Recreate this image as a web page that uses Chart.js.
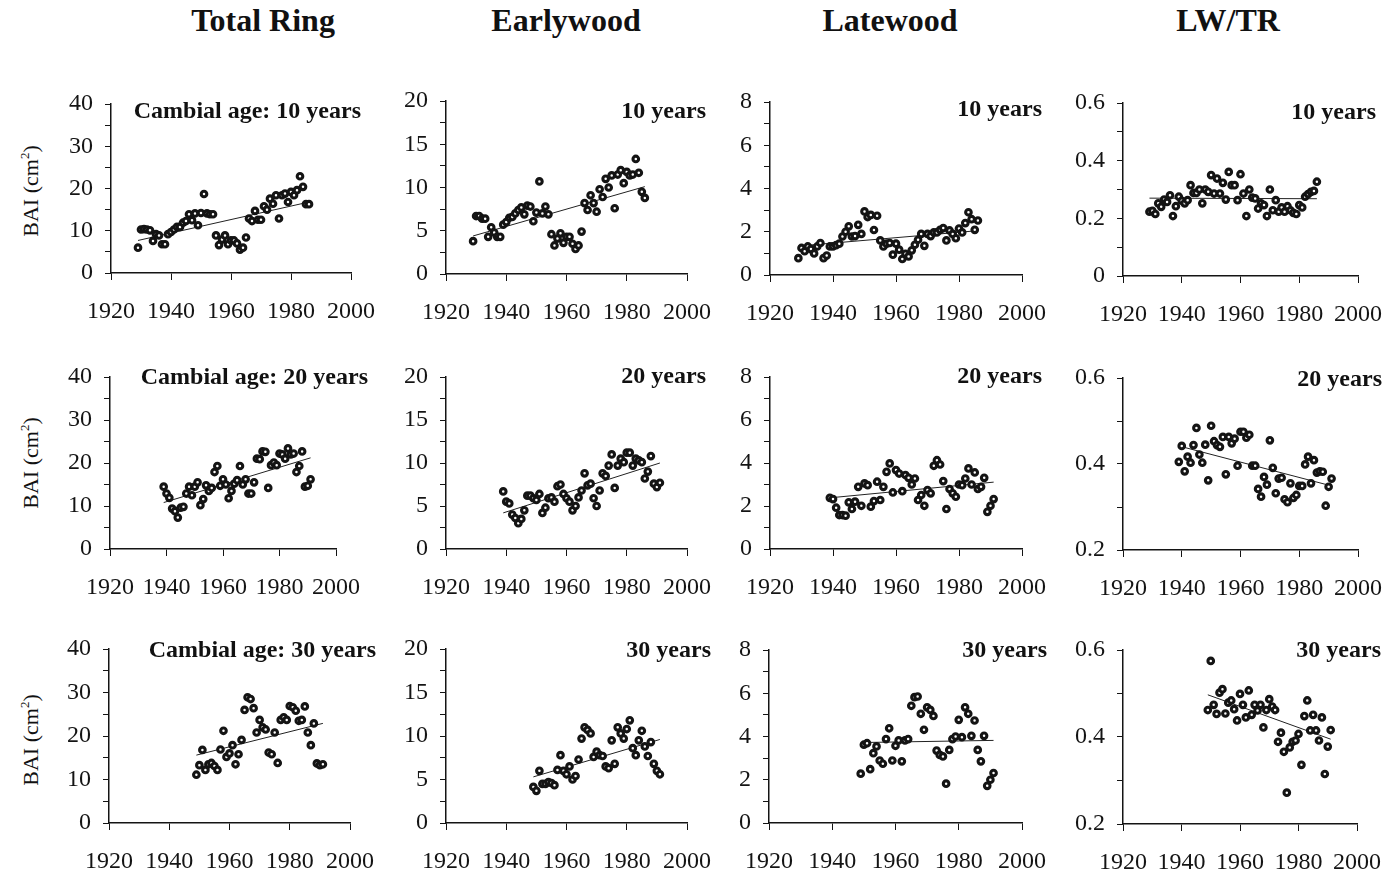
<!DOCTYPE html>
<html>
<head>
<meta charset="utf-8">
<script src="https://cdn.jsdelivr.net/npm/chart.js@4.4.0/dist/chart.umd.min.js"></script>
<style>
  body { margin: 0; background: #fff; width: 1398px; height: 874px; position: relative; overflow: hidden;
         font-family: "Liberation Serif", "Times New Roman", serif; color: #111; }
  .title { position: absolute; top: 4px; font-weight: bold; font-size: 32px; line-height: 32px;
           transform: translateX(-50%); white-space: nowrap; }
  .ylab { position: absolute; font-size: 22px; line-height: 22px; white-space: nowrap;
          transform: translate(-50%, -50%) rotate(-90deg); }
  .ylab sup { font-size: 13px; }
  .note { position: absolute; font-weight: bold; font-size: 24px; line-height: 24px; white-space: nowrap;
          transform: translateX(-100%); }
  canvas { position: absolute; }
</style>
</head>
<body>
<script>
// years of each cambial-age series
const years10 = [1929, 1930, 1931, 1932, 1933, 1934, 1935, 1936, 1937, 1938, 1939, 1940, 1941, 1942, 1943,
  1944, 1945, 1946, 1947, 1948, 1949, 1950, 1951, 1952, 1953, 1954, 1955, 1956, 1957, 1958, 1959, 1960,
  1961, 1962, 1963, 1964, 1965, 1966, 1967, 1968, 1969, 1970, 1971, 1972, 1973, 1974, 1975, 1976, 1977,
  1978, 1979, 1980, 1981, 1982, 1983, 1984, 1985, 1986];
const years20 = [1939, 1940, 1941, 1942, 1943, 1944, 1945, 1946, 1947, 1948, 1949, 1950, 1951, 1952, 1953,
  1954, 1955, 1956, 1957, 1958, 1959, 1960, 1961, 1962, 1963, 1964, 1965, 1966, 1967, 1968, 1969, 1970,
  1971, 1972, 1973, 1974, 1975, 1976, 1977, 1978, 1979, 1980, 1981, 1982, 1983, 1984, 1985, 1986, 1987,
  1988, 1989, 1990, 1991];
const years30 = [1949, 1950, 1951, 1952, 1953, 1954, 1955, 1956, 1957, 1958, 1959, 1960, 1961, 1962, 1963,
  1964, 1965, 1966, 1967, 1968, 1969, 1970, 1971, 1972, 1973, 1974, 1975, 1976, 1977, 1978, 1979, 1980,
  1981, 1982, 1983, 1984, 1985, 1986, 1987, 1988, 1989, 1990, 1991];

// cambial age 10 years
const totalRing10 = [6.0, 10.3, 10.4, 10.3, 10.1, 7.6, 9.2, 8.9, 6.8, 6.8, 9.2, 9.7, 10.3, 10.9, 10.9, 11.9,
  12.3, 13.9, 12.5, 14.1, 11.3, 14.2, 18.7, 14.1, 13.9, 13.9, 8.9, 6.6, 7.9, 8.9, 6.8, 7.7, 7.7, 7.0, 5.5,
  6.0, 8.4, 12.9, 12.3, 14.7, 12.6, 12.6, 15.8, 15.0, 17.6, 16.4, 18.4, 12.9, 18.4, 18.8, 16.8, 19.2, 18.4,
  19.6, 22.9, 20.4, 16.3, 16.3];
const earlywood10 = [3.8, 6.7, 6.7, 6.4, 6.4, 4.3, 5.4, 4.8, 4.3, 4.3, 5.7, 6.0, 6.5, 6.6, 7.0, 7.4, 7.7,
  6.9, 7.9, 7.8, 6.1, 7.1, 10.7, 7.0, 7.8, 6.9, 4.6, 3.3, 4.1, 4.7, 3.6, 4.3, 4.3, 3.5, 2.9, 3.3, 4.9, 8.2,
  7.4, 9.1, 8.2, 7.2, 9.8, 8.9, 11.0, 10.0, 11.4, 7.6, 11.5, 12.0, 10.5, 11.8, 11.4, 11.5, 13.3, 11.7, 9.5, 8.8];
const latewood10 = [0.78, 1.25, 1.1, 1.32, 1.2, 1.0, 1.32, 1.48, 0.78, 0.9, 1.32, 1.32, 1.38, 1.45, 1.78,
  2.0, 2.25, 1.78, 1.8, 2.32, 1.9, 2.94, 2.68, 2.78, 2.08, 2.74, 1.6, 1.32, 1.45, 1.48, 0.94, 1.45, 1.17,
  0.74, 0.98, 0.86, 1.14, 1.4, 1.63, 1.9, 1.35, 1.9, 1.8, 1.97, 1.97, 2.09, 2.17, 1.6, 2.06, 1.9, 1.7, 2.15,
  1.97, 2.4, 2.9, 2.58, 2.09, 2.52];
const ratio10 = [0.223, 0.226, 0.215, 0.252, 0.240, 0.265, 0.257, 0.280, 0.208, 0.242, 0.275, 0.261, 0.252,
  0.263, 0.315, 0.288, 0.288, 0.300, 0.252, 0.300, 0.292, 0.350, 0.286, 0.338, 0.286, 0.323, 0.265, 0.361,
  0.315, 0.315, 0.263, 0.353, 0.286, 0.208, 0.300, 0.272, 0.269, 0.234, 0.252, 0.246, 0.208, 0.300, 0.228,
  0.263, 0.223, 0.238, 0.223, 0.242, 0.228, 0.219, 0.215, 0.246, 0.238, 0.275, 0.284, 0.292, 0.295, 0.327];

// cambial age 20 years
const totalRing20 = [14.5, 12.9, 11.9, 9.4, 8.8, 7.3, 9.6, 9.8, 12.9, 14.5, 12.5, 14.5, 15.5, 10.2, 11.6,
  14.8, 13.5, 14.2, 17.9, 19.3, 14.7, 16.2, 15.0, 11.8, 13.5, 15.2, 16.0, 19.3, 15.0, 16.2, 12.9, 12.9, 15.5,
  21.0, 20.9, 22.7, 22.6, 14.2, 19.5, 20.1, 19.5, 22.2, 22.0, 21.0, 23.4, 22.0, 22.2, 17.9, 19.3, 22.7, 14.5,
  14.7, 16.2];
const earlywood20 = [6.7, 5.5, 5.3, 4.0, 3.6, 3.0, 3.5, 4.5, 6.2, 6.2, 5.9, 5.7, 6.4, 4.2, 4.8, 5.9, 6.0,
  5.5, 7.3, 7.5, 6.4, 5.9, 5.5, 4.5, 5.0, 6.0, 6.8, 8.8, 7.4, 7.6, 5.9, 5.0, 6.8, 8.8, 8.5, 9.7, 11.0, 7.1,
  9.7, 10.5, 10.1, 11.2, 11.2, 9.7, 10.5, 10.3, 10.1, 8.2, 9.0, 10.8, 7.6, 7.2, 7.7];
const latewood20 = [2.38, 2.32, 1.92, 1.58, 1.58, 1.55, 2.17, 1.86, 2.2, 2.89, 2.01, 3.05, 2.97, 1.97, 2.23,
  3.13, 2.28, 2.89, 3.59, 3.98, 2.63, 3.67, 3.51, 2.69, 3.44, 3.31, 3.0, 3.28, 2.28, 2.51, 2.01, 2.74, 2.59,
  3.87, 4.13, 3.93, 3.16, 1.86, 2.79, 2.59, 2.43, 3.0, 2.97, 3.28, 3.75, 3.0, 3.56, 2.79, 2.89, 3.31, 1.73,
  2.01, 2.32];
const ratio20 = [0.405, 0.442, 0.383, 0.417, 0.403, 0.444, 0.484, 0.422, 0.403, 0.445, 0.362, 0.489, 0.453,
  0.444, 0.440, 0.463, 0.376, 0.463, 0.448, 0.459, 0.396, 0.475, 0.475, 0.461, 0.468, 0.396, 0.396, 0.342,
  0.324, 0.370, 0.352, 0.455, 0.391, 0.332, 0.366, 0.368, 0.318, 0.311, 0.355, 0.321, 0.328, 0.349, 0.349,
  0.399, 0.417, 0.355, 0.409, 0.380, 0.383, 0.382, 0.303, 0.347, 0.366];

// cambial age 30 years
const totalRing30 = [11.1, 13.3, 16.8, 12.2, 13.5, 13.8, 13.1, 12.2, 16.9, 21.2, 15.2, 16.0, 17.9, 13.5,
  15.8, 19.1, 26.0, 28.9, 28.5, 26.4, 20.8, 23.7, 22.0, 21.5, 16.2, 15.8, 20.8, 13.8, 23.7, 24.3, 23.7, 26.9,
  26.6, 25.8, 23.5, 23.7, 26.8, 20.8, 17.9, 22.9, 13.7, 13.3, 13.5];
const earlywood30 = [4.15, 3.7, 6.0, 4.5, 4.5, 4.7, 4.6, 4.35, 6.1, 7.8, 6.0, 5.6, 6.5, 5.0, 5.4, 7.3, 9.7,
  11.0, 10.7, 10.3, 7.6, 8.2, 7.8, 7.7, 6.5, 6.3, 9.5, 6.8, 11.0, 10.3, 9.7, 10.8, 11.8, 8.6, 7.8, 9.5, 10.6,
  8.8, 7.7, 9.3, 6.8, 6.0, 5.6];
const latewood30 = [2.28, 3.62, 3.69, 2.49, 3.23, 3.54, 2.89, 2.74, 3.88, 4.38, 2.89, 3.57, 3.82, 2.85, 3.82,
  3.88, 5.42, 5.82, 5.85, 5.05, 4.31, 5.35, 5.23, 4.95, 3.35, 3.15, 3.08, 1.82, 3.38, 3.88, 4.0, 4.77, 3.97,
  5.35, 5.05, 4.03, 4.74, 3.38, 2.85, 4.03, 1.72, 2.0, 2.31];
const ratio30 = [0.462, 0.575, 0.474, 0.453, 0.502, 0.510, 0.454, 0.479, 0.484, 0.464, 0.438, 0.499, 0.474,
  0.445, 0.507, 0.451, 0.474, 0.461, 0.474, 0.422, 0.462, 0.487, 0.470, 0.462, 0.389, 0.410, 0.366, 0.272,
  0.376, 0.389, 0.392, 0.407, 0.336, 0.448, 0.484, 0.415, 0.451, 0.415, 0.392, 0.445, 0.315, 0.378, 0.416];

// linear trend: value at first year, value at last year
const trendTotalRing10 = [7.7, 16.8];
const trendEarlywood10 = [4.4, 10.1];
const trendLatewood10 = [1.34, 2.05];
const trendRatio10 = [0.270, 0.268];
const trendTotalRing20 = [10.8, 21.2];
const trendEarlywood20 = [4.2, 10.0];
const trendLatewood20 = [2.38, 3.11];
const trendRatio20 = [0.442, 0.349];
const trendTotalRing30 = [15.6, 22.9];
const trendEarlywood30 = [5.3, 9.6];
const trendLatewood30 = [3.72, 3.82];
const trendRatio30 = [0.497, 0.395];

const columnTitles = ["Total Ring", "Earlywood", "Latewood", "LW/TR"];
const ageLabels = ["Cambial age: 10 years", "10 years", "10 years", "10 years",
                   "Cambial age: 20 years", "20 years", "20 years", "20 years",
                   "Cambial age: 30 years", "30 years", "30 years", "30 years"];

// y axis: [min, max, minor step, labelled step]
const yTotal = [0, 40, 5, 10], yEarly = [0, 20, 2.5, 5], yLate = [0, 8, 1, 2];
const yRatioTop = [0, 0.6, 0.1, 0.2], yRatio = [0.2, 0.6, 0.1, 0.2];

const FONT = '"Liberation Serif", "Times New Roman", serif';
const INK = '#141414';

// page layout: plot area [left, top, right, bottom] and note anchor [right, top]
const panels = [
  { years: years10, values: totalRing10, trend: trendTotalRing10, y: yTotal, rect: [111, 104, 351, 273], note: [361, 98] },
  { years: years10, values: earlywood10, trend: trendEarlywood10, y: yEarly, rect: [446, 101, 687, 274], note: [706, 98] },
  { years: years10, values: latewood10, trend: trendLatewood10, y: yLate, rect: [770, 102, 1022, 275], note: [1042, 96] },
  { years: years10, values: ratio10, trend: trendRatio10, y: yRatioTop, rect: [1123, 103, 1358, 276], note: [1376, 99], ratio: true },
  { years: years20, values: totalRing20, trend: trendTotalRing20, y: yTotal, rect: [110, 377, 336, 549], note: [368, 364] },
  { years: years20, values: earlywood20, trend: trendEarlywood20, y: yEarly, rect: [446, 377, 687, 549], note: [706, 363] },
  { years: years20, values: latewood20, trend: trendLatewood20, y: yLate, rect: [770, 377, 1022, 549], note: [1042, 363] },
  { years: years20, values: ratio20, trend: trendRatio20, y: yRatio, rect: [1123, 378, 1358, 550], note: [1382, 366], ratio: true },
  { years: years30, values: totalRing30, trend: trendTotalRing30, y: yTotal, rect: [109, 649, 350, 823], note: [376, 637] },
  { years: years30, values: earlywood30, trend: trendEarlywood30, y: yEarly, rect: [446, 649, 687, 823], note: [711, 637] },
  { years: years30, values: latewood30, trend: trendLatewood30, y: yLate, rect: [769, 650, 1022, 823], note: [1047, 637] },
  { years: years30, values: ratio30, trend: trendRatio30, y: yRatio, rect: [1123, 650, 1357, 824], note: [1381, 637], ratio: true }
];

const titleCenters = [263, 566, 890, 1228];
const yLabelCenters = [191, 463, 740];

function addText(cls, html, left, top) {
  const d = document.createElement('div');
  d.className = cls;
  d.innerHTML = html;
  d.style.left = left + 'px';
  d.style.top = top + 'px';
  document.body.appendChild(d);
}

columnTitles.forEach((t, i) => addText('title', t, titleCenters[i], 4));
yLabelCenters.forEach((cy) => addText('ylab', 'BAI (cm<sup>2</sup>)', 28, cy));

// room round each plot area, wide enough that Chart.js never has to shrink it
const padL = 72, padT = 40, padR = 52, padB = 56;

panels.forEach((p, idx) => {
  const [l, t, r, b] = p.rect;
  const canvas = document.createElement('canvas');
  canvas.width = r - l + padL + padR;
  canvas.height = b - t + padT + padB;
  canvas.style.left = (l - padL) + 'px';
  canvas.style.top = (t - padT) + 'px';
  document.body.appendChild(canvas);

  const [ymin, ymax, ystep, ymajor] = p.y;
  const last = p.years.length - 1;

  new Chart(canvas.getContext('2d'), {
    type: 'scatter',
    data: {
      datasets: [
        {
          data: p.years.map((x, i) => ({ x, y: p.values[i] })),
          pointRadius: 2.8,
          pointBorderWidth: 3.1,
          pointBackgroundColor: '#ffffff',
          pointBorderColor: INK,
          order: 1
        },
        {
          type: 'line',
          data: [{ x: p.years[0], y: p.trend[0] }, { x: p.years[last], y: p.trend[1] }],
          borderColor: '#222',
          borderWidth: 1,
          pointRadius: 0,
          order: 2
        }
      ]
    },
    options: {
      responsive: false,
      animation: false,
      events: [],
      layout: { padding: { left: 0, top: padT, right: padR, bottom: 0 } },
      plugins: { legend: { display: false }, tooltip: { enabled: false } },
      scales: {
        x: {
          type: 'linear', min: 1920, max: 2000,
          ticks: { stepSize: 20, color: INK, font: { family: FONT, size: 24 }, padding: 17,
                   maxRotation: 0, autoSkip: false, callback: (v) => String(v) },
          grid: { drawOnChartArea: false, tickLength: 7, color: INK, lineWidth: 1 },
          border: { color: INK, width: 1.5 },
          afterFit: (s) => { s.height = padB; }
        },
        y: {
          min: ymin, max: ymax,
          ticks: {
            stepSize: ystep, color: INK, font: { family: FONT, size: 24 }, padding: 12, autoSkip: false,
            callback: (v) => {
              const k = v / ymajor;
              if (Math.abs(k - Math.round(k)) > 1e-6) return '';
              if (p.ratio) return Math.abs(v) < 1e-9 ? '0' : v.toFixed(1);
              return String(Math.round(v));
            }
          },
          grid: { drawOnChartArea: false, tickLength: 6, color: INK, lineWidth: 1 },
          border: { color: INK, width: 1.5 },
          afterFit: (s) => { s.width = padL; }
        }
      }
    }
  });

  addText('note', ageLabels[idx], p.note[0], p.note[1]);
});
</script>
</body>
</html>
